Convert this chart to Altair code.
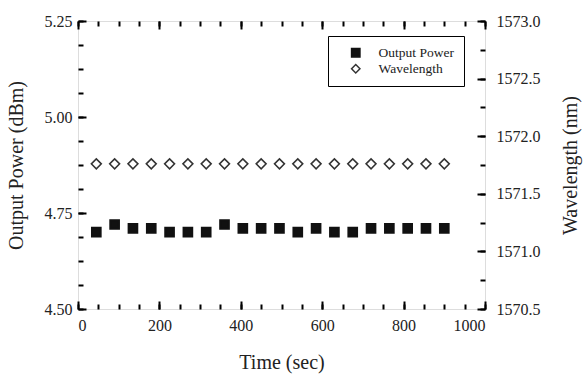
import altair as alt
import pandas as pd

# Measurement times (s)
time_s = [45, 90, 135, 180, 225, 270, 315, 360, 405, 450,
          495, 540, 585, 630, 675, 720, 765, 810, 855, 900]
# Output power (dBm)
power_dbm = [4.70, 4.72, 4.71, 4.71, 4.70, 4.70, 4.70, 4.72, 4.71, 4.71,
             4.71, 4.70, 4.71, 4.70, 4.70, 4.71, 4.71, 4.71, 4.71, 4.71]
# Lasing wavelength (nm)
wavelength_nm = [1571.76, 1571.76, 1571.76, 1571.76, 1571.76, 1571.76, 1571.76,
                 1571.76, 1571.76, 1571.76, 1571.76, 1571.76, 1571.76, 1571.76,
                 1571.76, 1571.76, 1571.76, 1571.76, 1571.76, 1571.76]

series_names = ["Output Power", "Wavelength"]

x_major = [0, 200, 400, 600, 800, 1000]
x_minor = [v for v in range(0, 1001, 50)]
p_major = [4.50, 4.75, 5.00, 5.25]
p_minor = [4.5 + 0.0625 * i for i in range(13)]
w_major = [1570.5, 1571.0, 1571.5, 1572.0, 1572.5, 1573.0]
w_minor = [1570.5 + 0.25 * i for i in range(11)]

power_df = pd.DataFrame({"time": time_s, "value": power_dbm, "series": series_names[0]})
wave_df = pd.DataFrame({"time": time_s, "value": wavelength_nm, "series": series_names[1]})

FONT = "Liberation Serif"
MAJ, MIN = 8, 5

x_scale = alt.Scale(domain=[0, 1000], nice=False)
p_scale = alt.Scale(domain=[4.5, 5.25], nice=False, zero=False)
w_scale = alt.Scale(domain=[1570.5, 1573.0], nice=False, zero=False)

legend = alt.Legend(
    title=None, orient="none", legendX=250, legendY=15,
    strokeColor="black", fillColor="white", padding=10,
    symbolOffset=11, labelOffset=16, rowPadding=1,
    labelFont=FONT, labelFontSize=13.5, labelColor="#222",
    symbolSize=70, symbolStrokeWidth=1.5,
)
shape_enc = alt.Shape("series:N", scale=alt.Scale(domain=series_names, range=["square", "diamond"]),
                      legend=legend)
fill_enc = alt.Fill("series:N", scale=alt.Scale(domain=series_names, range=["#111111", "#ffffff"]),
                    legend=legend)
stroke_enc = alt.Stroke("series:N", scale=alt.Scale(domain=series_names, range=["#111111", "#333333"]),
                        legend=legend)


def tick_axis(orient, values, size, labels=False, **kw):
    # inward ticks: pull the axis inside the frame and let ticks reach back to the edge
    return alt.Axis(orient=orient, values=values, offset=-size, tickSize=size, tickWidth=2,
                    tickColor="black", domain=False, grid=False, labels=labels,
                    labelFont=FONT, labelFontSize=16, labelColor="#222",
                    titleFont=FONT, titleFontSize=20, titleFontWeight="normal", titleColor="#222",
                    **kw)


power_layer = alt.Chart(power_df).mark_point(filled=True, size=75, opacity=1).encode(
    x=alt.X("time:Q", scale=x_scale,
            axis=tick_axis("bottom", x_major, MAJ, labels=True, title="Time (sec)",
                           labelPadding=8, format="d", titlePadding=19)),
    y=alt.Y("value:Q", scale=p_scale,
            axis=tick_axis("left", p_major, MAJ, labels=True, title="Output Power (dBm)",
                           format=".2f", labelPadding=6, titlePadding=18)),
    shape=shape_enc, fill=fill_enc, stroke=stroke_enc,
)

wave_layer = alt.Chart(wave_df).mark_point(size=100, strokeWidth=1.5, opacity=1).encode(
    x=alt.X("time:Q", scale=x_scale, axis=tick_axis("top", x_major, MAJ, title="")),
    y=alt.Y("value:Q", scale=w_scale,
            axis=tick_axis("right", w_major, MAJ, labels=True, title="Wavelength (nm)",
                           format=".1f", labelPadding=11, titlePadding=40, titleAngle=270)),
    shape=shape_enc, fill=fill_enc, stroke=stroke_enc,
)

power_minor = alt.Chart(power_df).mark_point(opacity=0).encode(
    x=alt.X("time:Q", scale=x_scale, axis=tick_axis("bottom", x_minor, MIN, title="")),
    y=alt.Y("value:Q", scale=p_scale, axis=tick_axis("left", p_minor, MIN, title="")),
)

wave_minor = alt.Chart(wave_df).mark_point(opacity=0).encode(
    x=alt.X("time:Q", scale=x_scale, axis=tick_axis("top", x_minor, MIN, title="")),
    y=alt.Y("value:Q", scale=w_scale, axis=tick_axis("right", w_minor, MIN, title="")),
)

chart = alt.layer(power_layer, wave_layer, power_minor, wave_minor).resolve_scale(
    y="independent", x="shared"
).resolve_axis(
    x="independent", y="independent"
).properties(
    width=407, height=288,
    autosize=alt.AutoSizeParams(type="none"),
    padding={"left": 78, "top": 21, "right": 103, "bottom": 65},
).configure(background="white")

chart.save("out.html", embed_options={"renderer": "svg", "actions": False})
